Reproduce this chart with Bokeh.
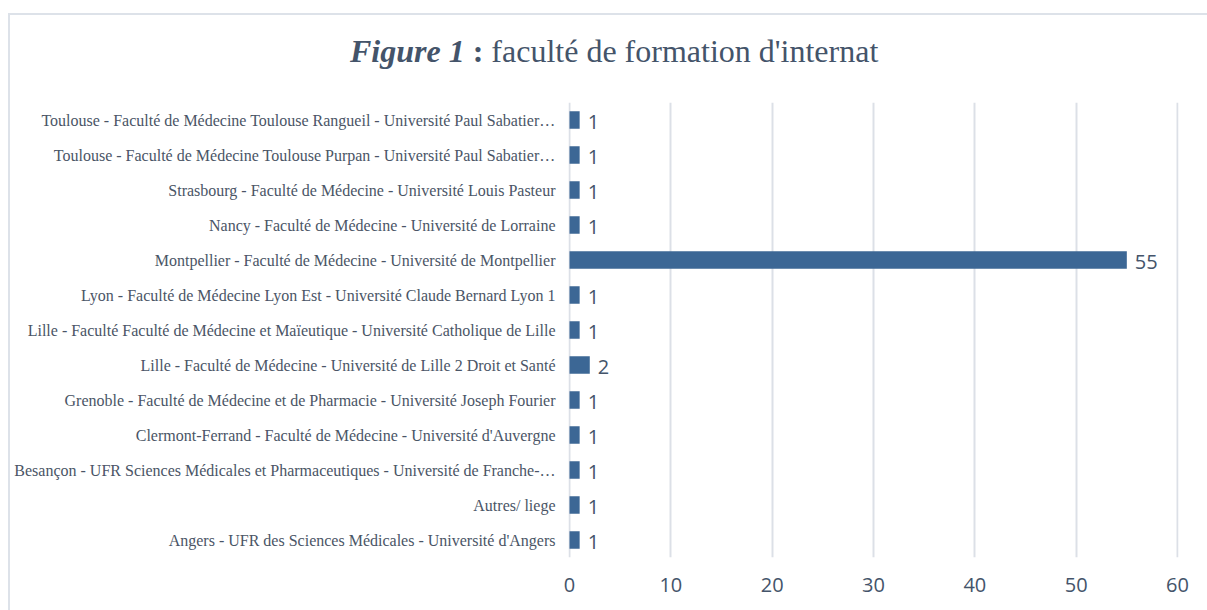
from bokeh.plotting import figure
from bokeh.models import Range1d, FactorRange, SingleIntervalTicker, ColumnDataSource, Div
from bokeh.layouts import column
from bokeh.core.properties import value
from bokeh.embed import file_html
from bokeh.resources import INLINE

# Data (bottom to top)
categories = [
    "Angers - UFR des Sciences Médicales - Université d'Angers",
    "Autres/ liege",
    "Besançon - UFR Sciences Médicales et Pharmaceutiques - Université de Franche-…",
    "Clermont-Ferrand - Faculté de Médecine - Université d'Auvergne",
    "Grenoble - Faculté de Médecine et de Pharmacie - Université Joseph Fourier",
    "Lille - Faculté de Médecine - Université de Lille 2 Droit et Santé",
    "Lille - Faculté Faculté de Médecine et Maïeutique - Université Catholique de Lille",
    "Lyon - Faculté de Médecine Lyon Est - Université Claude Bernard Lyon 1",
    "Montpellier - Faculté de Médecine - Université de Montpellier",
    "Nancy - Faculté de Médecine - Université de Lorraine",
    "Strasbourg - Faculté de Médecine - Université Louis Pasteur",
    "Toulouse - Faculté de Médecine Toulouse Purpan - Université Paul Sabatier…",
    "Toulouse - Faculté de Médecine Toulouse Rangueil - Université Paul Sabatier…",
]
counts = [1, 1, 1, 1, 1, 2, 1, 1, 55, 1, 1, 1, 1]
x_ticks = [0, 10, 20, 30, 40, 50, 60]
title_bold_italic = "Figure 1"
title_rest = "faculté de formation d'internat"

src = ColumnDataSource(dict(cat=categories, val=counts, lbl=[str(v) for v in counts]))

W = 1197
DIV_H = 72
H = 595 - DIV_H

tcol = "#44546A"
title_html = (
    f'<div style="font-family:\'Liberation Serif\';font-size:32px;line-height:32px;'
    f'color:{tcol};white-space:nowrap;padding-top:20px;padding-left:340px;">'
    f'<b><i>{title_bold_italic}</i> :</b> {title_rest}</div>'
)
div = Div(text=title_html, width=W, height=DIV_H, styles={"margin": "0", "padding": "0"})

p = figure(
    width=W, height=H,
    y_range=FactorRange(*categories, range_padding=0),
    x_range=Range1d(x_ticks[0] - 0.1, x_ticks[-1] + 0.1),
    output_backend="svg", toolbar_location=None,
    min_border_left=558, min_border_right=29,
    min_border_top=102 - 15 - DIV_H, min_border_bottom=53,
)
p.outline_line_color = None
p.background_fill_color = "white"
p.border_fill_color = "white"

p.hbar(y="cat", right="val", left=0, height=0.5, source=src,
       fill_color="#3C6795", line_color=None)

p.text(x="val", y="cat", text="lbl", source=src, x_offset=8, y_offset=2,
       text_baseline="middle", text_align="left",
       text_font=value("Open Sans"), text_font_size="20px", text_color=tcol)

# axes
p.xaxis.ticker = SingleIntervalTicker(interval=10)
p.xaxis.axis_line_color = None
p.xaxis.major_tick_line_color = None
p.xaxis.minor_tick_line_color = None
p.xaxis.major_label_text_font = "Open Sans"
p.xaxis.major_label_text_font_size = "20px"
p.xaxis.major_label_text_color = tcol
p.xaxis.major_label_standoff = 14

p.yaxis.axis_line_color = None
p.yaxis.major_tick_line_color = None
p.yaxis.minor_tick_line_color = None
p.yaxis.major_tick_out = 0
p.yaxis.major_label_text_font = "Liberation Serif"
p.yaxis.major_label_text_font_size = "16px"
p.yaxis.major_label_text_color = "#4A5566"
p.yaxis.major_label_standoff = 13

p.xgrid.grid_line_color = "#DCE0E7"
p.xgrid.grid_line_width = 2
p.ygrid.grid_line_color = None

layout = column(div, p, spacing=0,
                styles={"border-top": "2px solid #DDE2E9", "border-left": "2px solid #DDE2E9",
                        "margin-left": "8px", "margin-top": "13px", "background": "white"})

open("out.html", "w").write(file_html(layout, INLINE))
